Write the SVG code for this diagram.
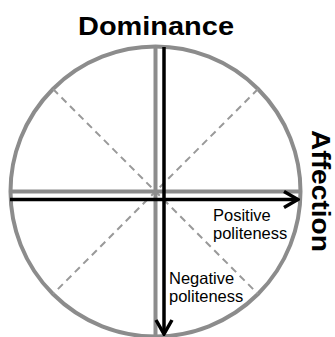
<svg xmlns="http://www.w3.org/2000/svg" width="335" height="337" viewBox="0 0 335 337">
<style>
.g{stroke:#8c8c8c;stroke-width:4;fill:none}
.d{stroke:#999;stroke-width:2;stroke-dasharray:7,5;fill:none}
.k{stroke:#000;stroke-width:3.5;fill:none}
.t{font-family:"Liberation Sans",Arial,sans-serif;fill:#000}
.b{font-weight:bold;font-size:26px}
.s{font-size:16.5px}
</style>
<defs>
<marker id="ah" markerUnits="userSpaceOnUse" viewBox="-16 -10 18 20" refX="0" refY="0" markerWidth="18" markerHeight="20" orient="auto">
<path d="M-14,-8 L0,0 L-14,8" fill="none" stroke="#000" stroke-width="3.5" stroke-linejoin="miter"/>
</marker>
</defs>
<rect width="335" height="337" fill="#fff"/>
<g id="circle">
<circle class="g" cx="155.5" cy="191.5" r="145"/>
</g>
<g id="connectors">
<line class="d" x1="53" y1="89" x2="258" y2="294"/>
<line class="d" x1="258" y1="89" x2="53" y2="294"/>
<line class="g" x1="155.5" y1="46.5" x2="155.5" y2="337"/>
<line class="g" x1="10.5" y1="191.5" x2="300.5" y2="191.5"/>
<line class="k" x1="164" y1="47" x2="164" y2="334" marker-end="url(#ah)"/>
<line class="k" x1="10" y1="199.5" x2="298" y2="199.5" marker-end="url(#ah)"/>
</g>
<g id="dominance">
<text class="t b" x="156" y="35" text-anchor="middle" textLength="156" lengthAdjust="spacingAndGlyphs">Dominance</text>
</g>
<g id="affection">
<text class="t b" transform="translate(312,191) rotate(90)" x="0" y="0" text-anchor="middle" textLength="122" lengthAdjust="spacingAndGlyphs">Affection</text>
</g>
<g id="positive">
<text class="t s" x="213" y="221">Positive</text>
<text class="t s" x="213" y="238.5">politeness</text>
</g>
<g id="negative">
<text class="t s" x="169" y="283.5">Negative</text>
<text class="t s" x="169" y="301.5">politeness</text>
</g>
</svg>
